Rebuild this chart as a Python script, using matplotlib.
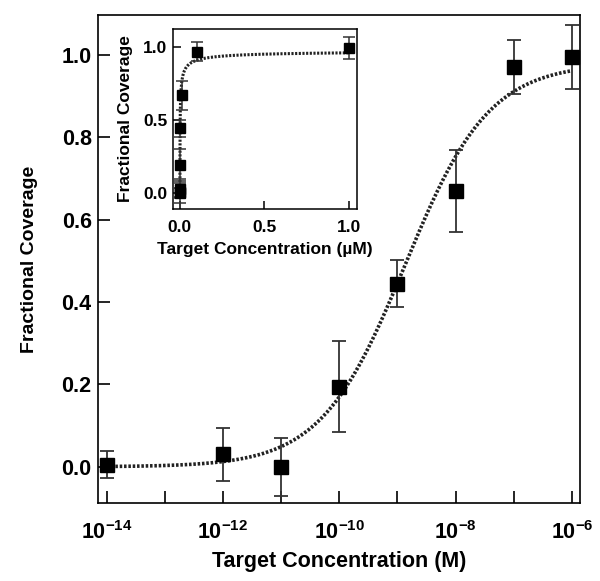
import numpy as np
import matplotlib
matplotlib.use("Agg")
import matplotlib.pyplot as plt
from matplotlib.ticker import FixedLocator, FuncFormatter, NullLocator

plt.rcParams['font.family'] = ['Liberation Sans', 'DejaVu Sans']
plt.rcParams['font.weight'] = 'bold'
plt.rcParams['mathtext.fontset'] = 'custom'
plt.rcParams['mathtext.rm'] = 'Liberation Sans:bold'
plt.rcParams['mathtext.bf'] = 'Liberation Sans:bold'
plt.rcParams['mathtext.it'] = 'Liberation Sans:bold'
plt.rcParams['mathtext.default'] = 'bf'
plt.rcParams['axes.unicode_minus'] = False

# Data
conc_M = [1e-14, 1e-12, 1e-11, 1e-10, 1e-9, 1e-8, 1e-7, 1e-6]
coverage = [0.005, 0.03, 0.0, 0.195, 0.445, 0.67, 0.97, 0.995]
coverage_err = [0.033, 0.065, 0.07, 0.11, 0.058, 0.10, 0.066, 0.078]
# Hill fit parameters (fit line)
kd_M = 1.35e-9
hill_n = 0.6
bmax = 0.98

x_tick_exps = [-14, -12, -10, -8, -6]
y_ticks = [0.0, 0.2, 0.4, 0.6, 0.8, 1.0]
inset_x_ticks = [0.0, 0.5, 1.0]
inset_y_ticks = [0.0, 0.5, 1.0]


def hill(x):
    x = np.asarray(x)
    return bmax * x ** hill_n / (kd_M ** hill_n + x ** hill_n)


def xfmt(v, p):
    e = int(round(np.log10(v)))
    if e in x_tick_exps:
        return '10$^{\\mathbf{-%d}}$' % (-e)
    return ''


fig = plt.figure(figsize=(6, 5.81), dpi=100)
ax = fig.add_axes([0.1633, 0.1334, 0.8033, 0.8408])

xf = np.logspace(-14, -6, 400)
ax.plot(xf, hill(xf), color='#222222', lw=2.6, ls=(0, (0.7, 0.5)), zorder=2)
ax.errorbar(conc_M, coverage, yerr=coverage_err, fmt='s', color='black',
            ms=10, capsize=5, elinewidth=1.3, capthick=1.3, ecolor='#333333', zorder=3)
ax.set_xscale('log')
ax.set_xlim(10 ** -14.15, 10 ** -5.862)
ax.set_ylim(-0.089, 1.097)
ax.xaxis.set_major_locator(FixedLocator([10.0 ** e for e in range(-14, -5)]))
ax.xaxis.set_minor_locator(NullLocator())
ax.xaxis.set_major_formatter(FuncFormatter(xfmt))
ax.set_yticks(y_ticks)
ax.set_yticklabels(['%.1f' % v for v in y_ticks])
ax.tick_params(direction='in', length=8.5, width=1.2, labelsize=15.5, pad=4.5)
ax.tick_params(axis='x', pad=13)
for s in ax.spines.values():
    s.set_linewidth(1.2)
ax.set_xlabel('Target Concentration (M)', fontsize=15.5, fontweight='bold', labelpad=5)
ax.set_ylabel('Fractional Coverage', fontsize=14, fontweight='bold', labelpad=17)

# Inset (µM)
axi = fig.add_axes([0.2883, 0.6403, 0.3067, 0.3098])
conc_uM = [c * 1e6 for c in conc_M]
xi = np.linspace(1e-8, 1.0, 2000)
axi.plot(xi, hill(xi * 1e-6), color='#222222', lw=2.2, ls=(0, (0.7, 0.5)), zorder=2)
axi.errorbar(conc_uM, coverage, yerr=coverage_err, fmt='s', color='black',
             ms=7, capsize=4, elinewidth=1.1, capthick=1.1, ecolor='#333333', zorder=3)
axi.set_xlim(-0.041, 1.047)
axi.set_ylim(-0.108, 1.125)
axi.set_xticks(inset_x_ticks)
axi.set_xticklabels(['%.1f' % v for v in inset_x_ticks])
axi.set_yticks(inset_y_ticks)
axi.set_yticklabels(['%.1f' % v for v in inset_y_ticks])
axi.tick_params(direction='in', length=6, width=1.1, labelsize=12.5, pad=4)
axi.tick_params(axis='x', pad=8)
for s in axi.spines.values():
    s.set_linewidth(1.1)
axi.set_xlabel('Target Concentration (µM)', fontsize=12.5, fontweight='bold', labelpad=5)
axi.set_ylabel('Fractional Coverage', fontsize=12.5, fontweight='bold', labelpad=7)

fig.savefig('out.png', dpi=100)
